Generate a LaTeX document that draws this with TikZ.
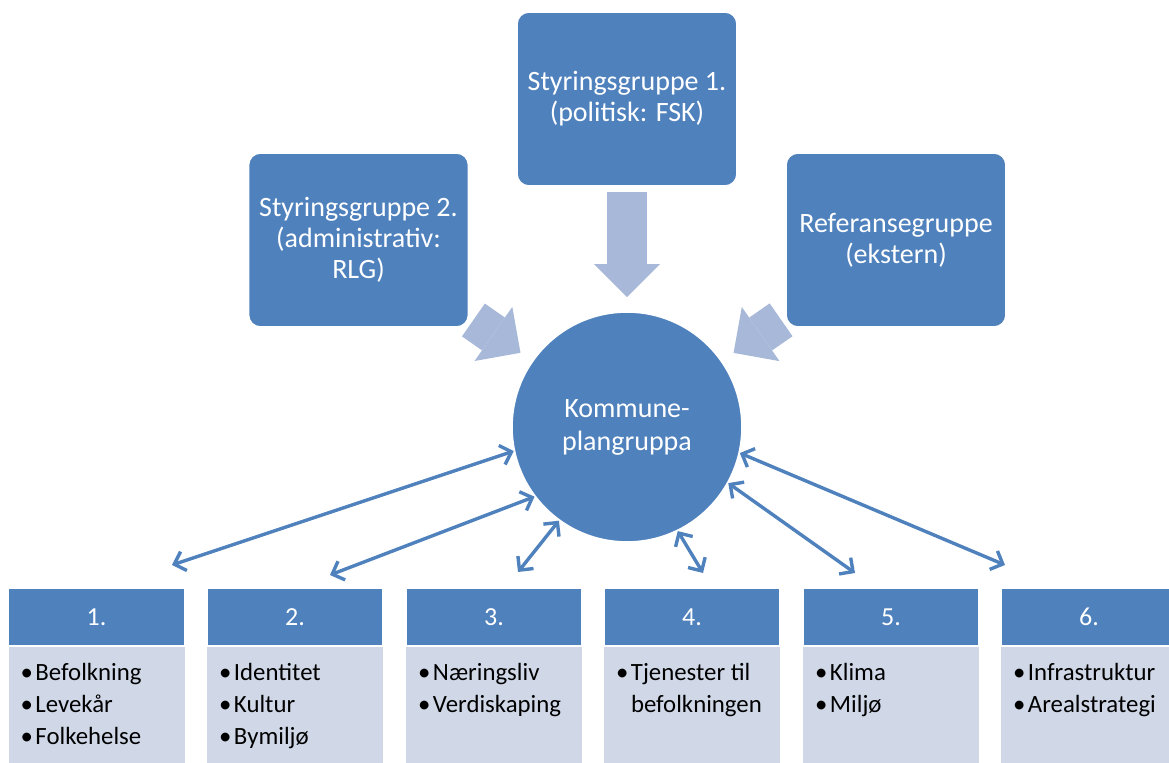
\documentclass[tikz,border=0pt]{standalone}
\usepackage{fontspec}
\setmainfont{Carlito}
\usetikzlibrary{arrows.meta,backgrounds}

\definecolor{morkbla}{HTML}{4F81BD}
\definecolor{lysbla}{HTML}{D0D8E8}
\definecolor{pilbla}{HTML}{A8B8D9}

\newcommand{\pkt}[1]{\makebox[7.5pt][l]{\textbullet}#1}
\newcommand{\innrykk}[1]{\hspace*{7.5pt}#1}

\begin{document}
\begin{tikzpicture}[x=0.5pt,y=-0.5pt,
    gruppe/.style={draw=white,line width=0.8pt,fill=morkbla,rounded corners=6pt,
        minimum width=110pt,minimum height=87pt,text=white,align=center,
        font=\fontsize{14}{15.5}\selectfont},
    sirkel/.style={circle,draw=white,line width=0.8pt,fill=morkbla,minimum size=115pt,
        inner sep=0pt,text=white,align=center,font=\fontsize{14}{16.5}\selectfont},
    blokkpil/.style={draw=pilbla,line width=20pt,
        -{Triangle[width=33pt,length=16.5pt,line width=0pt]},
        shorten <=2.5pt,shorten >=7pt},
    forbindelse/.style={draw=morkbla,line width=1.7pt,
        {Straight Barb[length=5pt,width=10pt]}-{Straight Barb[length=5pt,width=10pt]}},
    hode/.style={draw=white,line width=0.8pt,fill=morkbla,minimum width=88pt,
        minimum height=28.5pt,text=white,font=\fontsize{13}{15}\selectfont},
    kropp/.style={fill=lysbla,minimum width=88pt,minimum height=66pt,anchor=north},
    punkter/.style={anchor=north west,inner sep=0pt,align=left,
        font=\fontsize{12.4}{16}\selectfont}]

    \clip (0,0) rectangle (1169,763);

    \node[gruppe] (sg1) at (627,99) {Styringsgruppe 1.\\(politisk: FSK)};
    \node[gruppe] (sg2) at (358.5,240) {Styringsgruppe 2.\\(administrativ:\\RLG)};
    \node[gruppe] (ref) at (896,240) {Referansegruppe\\(ekstern)};
    \node[sirkel] (kp) at (627,427) {Kommune-\\plangruppa};

    \begin{scope}[on background layer]
        \draw[blokkpil] (sg1) -- (kp);
        \draw[blokkpil] (sg2) -- (kp);
        \draw[blokkpil] (ref) -- (kp);
    \end{scope}

    \node[hode] (h1) at (96.5,617) {1.};
    \node[hode] (h2) at (295,617) {2.};
    \node[hode] (h3) at (494,617) {3.};
    \node[hode] (h4) at (692,617) {4.};
    \node[hode] (h5) at (891,617) {5.};
    \node[hode] (h6) at (1089,617) {6.};

    \node[kropp] (b1) at (h1.south) {};
    \node[kropp] (b2) at (h2.south) {};
    \node[kropp] (b3) at (h3.south) {};
    \node[kropp] (b4) at (h4.south) {};
    \node[kropp] (b5) at (h5.south) {};
    \node[kropp] (b6) at (h6.south) {};

    \node[punkter] (t1) at ([shift={(6pt,-8.5pt)}]b1.north west) {\pkt{Befolkning}\\\pkt{Levekår}\\\pkt{Folkehelse}};
    \node[punkter] (t2) at ([shift={(6pt,-8.5pt)}]b2.north west) {\pkt{Identitet}\\\pkt{Kultur}\\\pkt{Bymiljø}};
    \node[punkter] (t3) at ([shift={(6pt,-8.5pt)}]b3.north west) {\pkt{Næringsliv}\\\pkt{Verdiskaping}};
    \node[punkter] (t4) at ([shift={(6pt,-8.5pt)}]b4.north west) {\pkt{Tjenester til}\\\innrykk{befolkningen}};
    \node[punkter] (t5) at ([shift={(6pt,-8.5pt)}]b5.north west) {\pkt{Klima}\\\pkt{Miljø}};
    \node[punkter] (t6) at ([shift={(6pt,-8.5pt)}]b6.north west) {\pkt{Infrastruktur}\\\pkt{Arealstrategi}};

    \coordinate (e1) at (172,565);
    \coordinate (e2) at (330,575);
    \coordinate (e3) at (518,572);
    \coordinate (e4) at (703,573);
    \coordinate (e5) at (855,573);
    \coordinate (e6) at (1005,565);

    \draw[forbindelse] (kp.192.6) -- (e1);
    \draw[forbindelse] (kp.217.7) -- (e2);
    \draw[forbindelse] (kp.234.3) -- (e3);
    \draw[forbindelse] (kp.296.8) -- (e4);
    \draw[forbindelse] (kp.331) -- (e5);
    \draw[forbindelse] (kp.347) -- (e6);
\end{tikzpicture}
\end{document}
